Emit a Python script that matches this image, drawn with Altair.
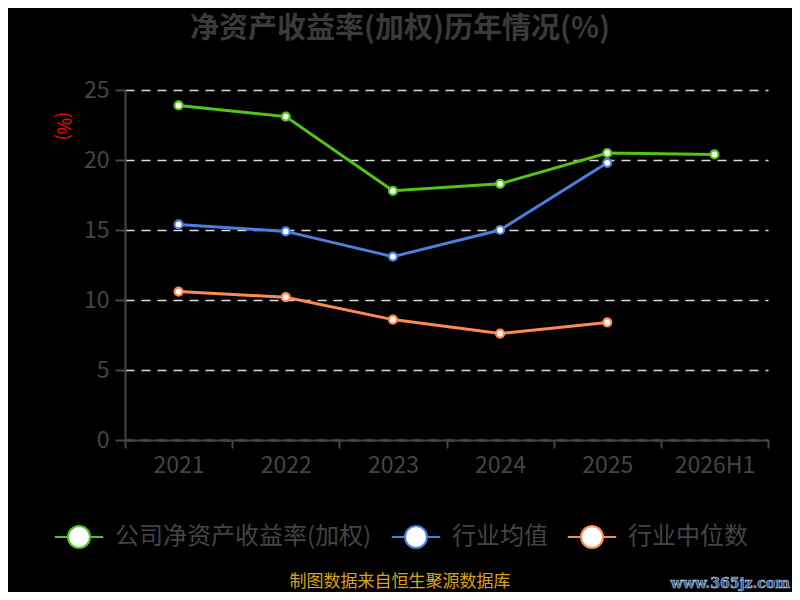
import altair as alt
import pandas as pd

years = ["2021", "2022", "2023", "2024", "2025", "2026H1"]
company = [23.9, 23.1, 17.8, 18.3, 20.5, 20.4]
ind_avg = [15.4, 14.9, 13.1, 15.0, 19.8, None]
ind_med = [10.6, 10.2, 8.6, 7.6, 8.4, None]
series_names = ["公司净资产收益率(加权)", "行业均值", "行业中位数"]
colors = ["#52c41a", "#4a7fe0", "#ff8a50"]
y_ticks = [0, 5, 10, 15, 20, 25]
title_text = "净资产收益率(加权)历年情况(%)"
unit_text = "(%)"
source_text = "制图数据来自恒生聚源数据库"
watermark_text = "www.365jz.com"

rows = []
for name, vals in zip(series_names, [company, ind_avg, ind_med]):
    for y, v in zip(years, vals):
        if v is not None:
            rows.append({"year": y, "value": v, "series": name})
df = pd.DataFrame(rows)

FONT = "Noto Sans CJK SC"
GRAY = "#444444"

legend_path = "M-2.2,0L-1,0M1,0L2.2,0M-1,0A1,1,0,1,1,1,0A1,1,0,1,1,-1,0Z"

x_enc = alt.X(
    "year:N",
    sort=years,
    bandPosition=0.5,
    scale=alt.Scale(type="band", domain=years, paddingInner=0, paddingOuter=0),
    axis=alt.Axis(
        title=None, tickBand="extent", labelAngle=0, labelFontSize=23,
        labelColor=GRAY, labelFont=FONT, labelPadding=6, tickSize=8,
        tickColor=GRAY, tickWidth=2, domainColor=GRAY, domainWidth=2,
        grid=False,
    ),
)
y_enc = alt.Y(
    "value:Q",
    scale=alt.Scale(domain=[0, 25], nice=False, zero=True),
    axis=alt.Axis(
        title=None, values=y_ticks, labelFontSize=23, labelColor=GRAY,
        labelFont=FONT, labelPadding=6, tickSize=10, tickColor=GRAY,
        tickWidth=2, domainColor=GRAY, domainWidth=2, grid=True,
        gridColor="#dddddd", gridDash=[9, 7], gridWidth=1.5,
    ),
)

color_enc = alt.Color(
    "series:N",
    sort=series_names,
    scale=alt.Scale(domain=series_names, range=colors),
    legend=alt.Legend(
        title=None, orient="none", direction="horizontal",
        legendX=-58, legendY=435, symbolType=legend_path,
        symbolSize=484, symbolStrokeWidth=2, symbolFillColor="white",
        labelFontSize=24, labelColor=GRAY, labelFont=FONT, labelLimit=0,
        labelOffset=24, columnPadding=15, padding=0,
    ),
)

lines = alt.Chart(df).mark_line(strokeWidth=3).encode(
    x=x_enc, y=y_enc, color=color_enc
)
points = alt.Chart(df).mark_point(
    filled=False, fill="white", fillOpacity=1, size=64, strokeWidth=2.2, opacity=1
).encode(x=x_enc, y=y_enc, color=color_enc)

title = alt.Chart(pd.DataFrame({"t": [title_text]})).mark_text(
    fontSize=29, fontWeight="bold", color="#3a3a3a", font=FONT,
    align="center", baseline="middle",
).encode(text="t:N", x=alt.value(275), y=alt.value(-61))

unit = alt.Chart(pd.DataFrame({"t": [unit_text]})).mark_text(
    fontSize=18, color="#ff0000", font=FONT, angle=90,
    align="center", baseline="middle",
).encode(text="t:N", x=alt.value(-63), y=alt.value(36))

source = alt.Chart(pd.DataFrame({"t": [source_text]})).mark_text(
    fontSize=17, color="#d9a21b", font=FONT,
    align="center", baseline="bottom",
).encode(text="t:N", x=alt.value(275), y=alt.value(501))

mark_wm = alt.Chart(pd.DataFrame({"t": [watermark_text]})).mark_text(
    fontSize=14, fontWeight="bold", color="#2b5aa0", font="DejaVu Serif",
    stroke="#b8c4d6", strokeWidth=0.6, align="right", baseline="middle",
).encode(text="t:N", x=alt.value(665), y=alt.value(494))

chart = alt.layer(lines, points, title, unit, source, mark_wm).properties(
    width=643,
    height=350,
    autosize=alt.AutoSizeParams(type="none"),
    padding={"left": 117, "top": 82, "right": 24, "bottom": 152},
    background="black",
).configure_view(stroke=None)

chart.save("out.html", embed_options={"renderer": "svg", "actions": False})
